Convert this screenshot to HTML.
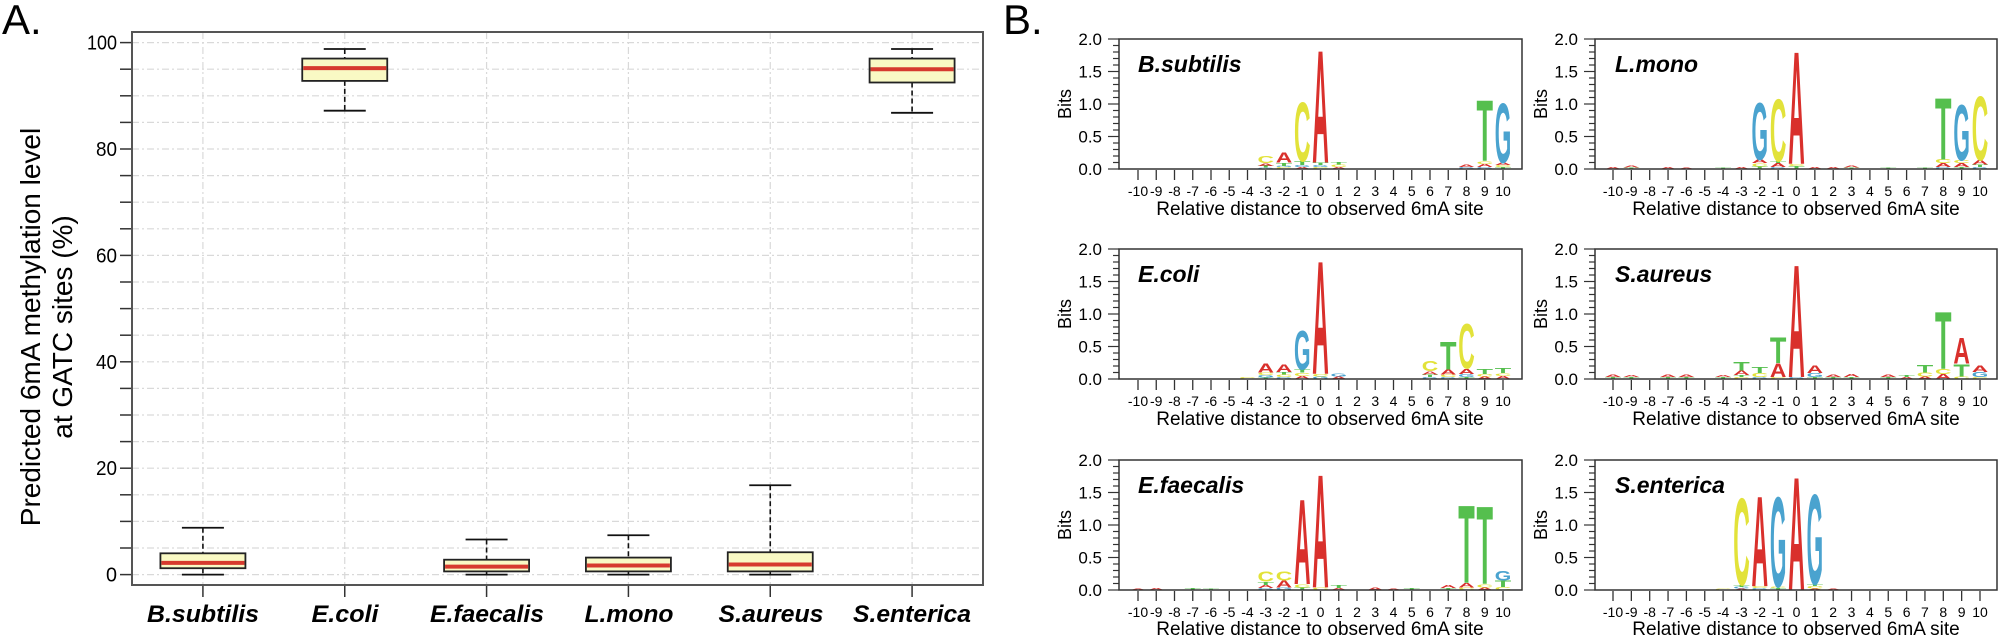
<!DOCTYPE html>
<html><head><meta charset="utf-8">
<style>
html,body{margin:0;padding:0;background:#fff;}
svg{display:block;}
text{font-family:"Liberation Sans",Arial,sans-serif;}
</style></head>
<body>
<svg id="s" width="2000" height="639" viewBox="0 0 2000 639" xmlns="http://www.w3.org/2000/svg">
<rect width="2000" height="639" fill="#fff"/>
<text x="2" y="34" font-size="42">A.</text>
<text x="1003" y="34" font-size="42">B.</text>
<g id="A"></g>
<text transform="translate(40,327) rotate(-90)" text-anchor="middle" font-size="28">Predicted 6mA methylation level</text>
<text transform="translate(72,327) rotate(-90)" text-anchor="middle" font-size="28">at GATC sites (%)</text>
<g font-size="24" font-weight="bold" font-style="italic" text-anchor="middle">
<text x="203" y="622" textLength="112" lengthAdjust="spacingAndGlyphs">B.subtilis</text>
<text x="345" y="622" textLength="67" lengthAdjust="spacingAndGlyphs">E.coli</text>
<text x="487" y="622" textLength="114" lengthAdjust="spacingAndGlyphs">E.faecalis</text>
<text x="629" y="622" textLength="89" lengthAdjust="spacingAndGlyphs">L.mono</text>
<text x="771" y="622" textLength="105" lengthAdjust="spacingAndGlyphs">S.aureus</text>
<text x="912" y="622" textLength="118" lengthAdjust="spacingAndGlyphs">S.enterica</text>
</g>
<g id="B"></g>
<g font-size="19" text-anchor="middle">
<text x="1320" y="215">Relative distance to observed 6mA site</text>
<text x="1796" y="215">Relative distance to observed 6mA site</text>
<text x="1320" y="425">Relative distance to observed 6mA site</text>
<text x="1796" y="425">Relative distance to observed 6mA site</text>
<text x="1320" y="635">Relative distance to observed 6mA site</text>
<text x="1796" y="635">Relative distance to observed 6mA site</text>
</g>
<g font-size="23" font-weight="bold" font-style="italic">
<text x="1138" y="72">B.subtilis</text>
<text x="1615" y="72">L.mono</text>
<text x="1138" y="282">E.coli</text>
<text x="1615" y="282">S.aureus</text>
<text x="1138" y="493">E.faecalis</text>
<text x="1615" y="493">S.enterica</text>
</g>
</svg>
<script>
var NS="http://www.w3.org/2000/svg";
function el(p,t,a,txt){var e=document.createElementNS(NS,t);for(var k in a)e.setAttribute(k,a[k]);if(txt!==undefined)e.textContent=txt;p.appendChild(e);return e;}
var A=document.getElementById("A");
var L=132,R=983,T=32,Bt=585;
function Y(v){return 574.6-v*5.32;}
var d=(R-L)/6;
for(var v=0;v<=100;v+=5){el(A,"line",{x1:L,x2:R,y1:Y(v),y2:Y(v),stroke:"#d9d9d9","stroke-width":1.2,"stroke-dasharray":"7,3,2,3"});
 el(A,"line",{x1:L-12,x2:L,y1:Y(v),y2:Y(v),stroke:"#333","stroke-width":1.5});
 if(v%20==0)el(A,"text",{x:L-15,y:Y(v)+7,"font-size":20,"text-anchor":"end",textLength:v==100?30:(v==0?11:21),lengthAdjust:"spacingAndGlyphs"},String(v));}
var cs=[];for(var i=0;i<6;i++){var cx=L+d*(i+0.5);cs.push(cx);
 el(A,"line",{x1:cx,x2:cx,y1:T,y2:Bt,stroke:"#d9d9d9","stroke-width":1.2,"stroke-dasharray":"7,3,2,3"});
 el(A,"line",{x1:cx,x2:cx,y1:Bt,y2:Bt+12,stroke:"#333","stroke-width":1.5});}
var data=[[0,1.2,2.2,4.0,8.8],[87.2,92.8,95.2,97,98.8],[0,0.6,1.5,2.8,6.6],[0,0.6,1.7,3.2,7.4],[0,0.6,1.9,4.2,16.8],[86.8,92.5,95,97,98.8]];
data.forEach(function(b,i){var cx=cs[i],w=85,cw=42;
 el(A,"line",{x1:cx,x2:cx,y1:Y(b[4]),y2:Y(b[3]),stroke:"#111","stroke-width":1.6,"stroke-dasharray":"5,3"});
 el(A,"line",{x1:cx,x2:cx,y1:Y(b[1]),y2:Y(b[0]),stroke:"#111","stroke-width":1.6,"stroke-dasharray":"5,3"});
 el(A,"line",{x1:cx-cw/2,x2:cx+cw/2,y1:Y(b[4]),y2:Y(b[4]),stroke:"#111","stroke-width":1.8});
 el(A,"line",{x1:cx-cw/2,x2:cx+cw/2,y1:Y(b[0]),y2:Y(b[0]),stroke:"#111","stroke-width":1.8});
 el(A,"rect",{x:cx-w/2,y:Y(b[3]),width:w,height:Y(b[1])-Y(b[3]),fill:"#f9f9c4",stroke:"#222","stroke-width":1.8});
 el(A,"line",{x1:cx-w/2+1,x2:cx+w/2-1,y1:Y(b[2]),y2:Y(b[2]),stroke:"#d63a2e","stroke-width":4});});
el(A,"rect",{x:L,y:T,width:R-L,height:Bt-T,fill:"none",stroke:"#555","stroke-width":2});
var B=document.getElementById("B");
var col={A:"#d9302c",C:"#e2e23a",G:"#4aa3cf",T:"#55bf4e"};
var panels=[
 {x0:1119,x1:1522,top:39,xs:1138,dx:18.25,st:{"-3":[["G",.02],["T",.03],["A",.04],["C",.11]],"-2":[["C",.03],["G",.02],["T",.05],["A",.17]],"-1":[["A",.03],["G",.03],["T",.06],["C",.95]],"0":[["C",.03],["G",.03],["T",.04],["A",1.81]],"1":[["A",.03],["C",.04],["T",.04]],"8":[["G",.03],["A",.04]],"9":[["G",.03],["A",.05],["C",.04],["T",.98]],"10":[["T",.03],["C",.03],["A",.04],["G",.96]]}},
 {x0:1595,x1:1997,top:39,xs:1613,dx:18.35,st:{"-10":[["A",.03]],"-9":[["T",.02],["A",.03]],"-7":[["A",.03]],"-6":[["A",.02]],"-4":[["T",.02]],"-3":[["A",.03]],"-2":[["T",.04],["C",.05],["A",.06],["G",.92]],"-1":[["G",.03],["A",.06],["T",.03],["C",1.0]],"0":[["T",.05],["C",.03],["A",1.81]],"1":[["A",.03]],"2":[["A",.03]],"3":[["T",.02],["A",.03]],"5":[["T",.02]],"7":[["T",.02]],"8":[["G",.03],["A",.06],["C",.06],["T",.99]],"9":[["T",.03],["A",.06],["C",.05],["G",.9]],"10":[["G",.03],["T",.04],["A",.07],["C",1.03]]}},
 {x0:1119,x1:1522,top:249,xs:1138,dx:18.25,st:{"-4":[["C",.03]],"-3":[["T",.02],["G",.04],["C",.04],["A",.14]],"-2":[["G",.03],["C",.04],["T",.04],["A",.12]],"-1":[["A",.05],["C",.05],["T",.05],["G",.62]],"0":[["G",.04],["C",.04],["A",1.82]],"1":[["A",.04],["G",.05]],"6":[["G",.03],["T",.04],["A",.05],["C",.17]],"7":[["G",.03],["C",.04],["A",.08],["T",.45]],"8":[["T",.03],["G",.05],["A",.08],["C",.72]],"9":[["A",.04],["C",.04],["T",.08]],"10":[["A",.05],["C",.04],["T",.08]]}},
 {x0:1595,x1:1997,top:249,xs:1613,dx:18.35,st:{"-10":[["T",.03],["A",.04]],"-9":[["T",.03],["A",.03]],"-7":[["T",.03],["A",.04]],"-6":[["T",.03],["A",.04]],"-4":[["T",.03],["A",.03]],"-3":[["C",.03],["T",.03],["A",.07],["T",.13]],"-2":[["G",.03],["C",.06],["T",.09]],"-1":[["C",.03],["A",.22],["T",.42]],"0":[["G",.03],["A",1.81]],"1":[["T",.03],["G",.06],["A",.12]],"2":[["T",.03],["A",.04]],"3":[["T",.03],["A",.05]],"5":[["T",.03],["A",.04]],"6":[["A",.03],["T",.03]],"7":[["A",.04],["C",.06],["T",.12]],"8":[["A",.08],["C",.08],["T",.92]],"9":[["C",.04],["T",.2],["A",.42]],"10":[["C",.03],["G",.08],["A",.1]]}},
 {x0:1119,x1:1522,top:460,xs:1138,dx:18.25,st:{"-10":[["A",.02]],"-9":[["A",.03]],"-7":[["T",.03]],"-6":[["T",.02]],"-3":[["G",.03],["A",.05],["T",.05],["C",.17]],"-2":[["G",.04],["A",.11],["C",.14]],"-1":[["T",.04],["C",.05],["A",1.37]],"0":[["C",.04],["A",1.82]],"1":[["A",.03],["T",.05]],"3":[["A",.04]],"4":[["A",.02]],"5":[["T",.03]],"7":[["T",.03],["A",.05]],"8":[["C",.04],["A",.07],["T",1.25]],"9":[["A",.04],["C",.05],["T",1.25]],"10":[["C",.05],["T",.1],["G",.15]]}},
 {x0:1595,x1:1997,top:460,xs:1613,dx:18.35,st:{"-4":[["C",.02]],"-3":[["A",.02],["G",.03],["T",.03],["C",1.4]],"-2":[["G",.03],["C",.03],["A",1.45]],"-1":[["T",.03],["C",.02],["G",1.45]],"0":[["A",1.82]],"1":[["A",.02],["C",.04],["T",.03],["G",1.45]],"2":[["A",.02]]}}
];
var PX=65;
panels.forEach(function(p){
 var bot=p.top+130;
 for(var k=0;k<=20;k++){var yy=bot-k*0.1*PX;var major=(k%5==0);
  el(B,"line",{x1:p.x0-(major?11:6),x2:p.x0,y1:yy,y2:yy,stroke:"#333","stroke-width":1.2});
  if(major)el(B,"text",{x:p.x0-17,y:yy+6,"font-size":17,"text-anchor":"end"},(k/10).toFixed(1));}
 el(B,"text",{transform:"translate("+(p.x0-48)+","+(p.top+65)+") rotate(-90)","font-size":18,"text-anchor":"middle"},"Bits");
 for(var j=-10;j<=10;j++){var cx=p.xs+(j+10)*p.dx;
  el(B,"line",{x1:cx,x2:cx,y1:bot+1,y2:bot+11,stroke:"#333","stroke-width":1.3});
  el(B,"text",{x:cx,y:bot+27,"font-size":14,"text-anchor":"middle"},String(j));
  var s=p.st[String(j)];if(!s)continue;var yb=bot;
  s.forEach(function(l){var h=l[1]*PX;var w=16.5;
   var g=el(B,"g",{transform:"translate("+(cx-w/2)+","+yb+") scale("+(w/70)+","+(h/73)+")"});
   el(g,"text",{x:0,y:0,"font-size":100,"font-weight":"bold",fill:col[l[0]],textLength:70,lengthAdjust:"spacingAndGlyphs"},l[0]);
   yb-=h;});
 }
 el(B,"rect",{x:p.x0,y:p.top,width:p.x1-p.x0,height:130,fill:"none",stroke:"#333","stroke-width":1.5});
});
</script>
</body></html>
